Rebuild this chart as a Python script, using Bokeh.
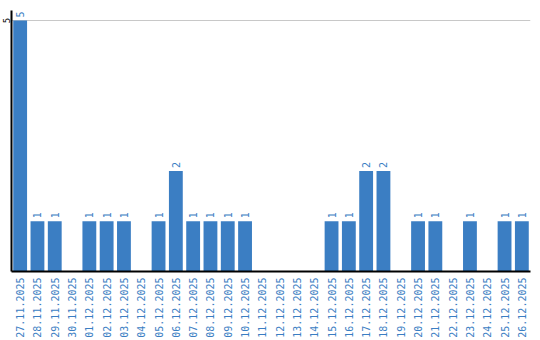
import math
from bokeh.plotting import figure
from bokeh.models import FactorRange, Range1d, FixedTicker, ColumnDataSource
from bokeh.core.properties import value
from bokeh.embed import file_html
from bokeh.resources import INLINE

dates = ["27.11.2025", "28.11.2025", "29.11.2025", "30.11.2025", "01.12.2025",
         "02.12.2025", "03.12.2025", "04.12.2025", "05.12.2025", "06.12.2025",
         "07.12.2025", "08.12.2025", "09.12.2025", "10.12.2025", "11.12.2025",
         "12.12.2025", "13.12.2025", "14.12.2025", "15.12.2025", "16.12.2025",
         "17.12.2025", "18.12.2025", "19.12.2025", "20.12.2025", "21.12.2025",
         "22.12.2025", "23.12.2025", "24.12.2025", "25.12.2025", "26.12.2025"]
counts = [5, 1, 1, 0, 1, 1, 1, 0, 1, 2,
          1, 1, 1, 1, 0, 0, 0, 0, 1, 1,
          2, 2, 0, 1, 1, 0, 1, 0, 1, 1]
y_ticks = [5]

BLUE = "#3b7ec3"

p = figure(width=540, height=340, x_range=FactorRange(*dates, range_padding=0),
           y_range=Range1d(0, 5.2), output_backend="svg", toolbar_location=None,
           min_border_left=0, min_border_right=10, min_border_top=10, min_border_bottom=0)
p.outline_line_color = None

src = ColumnDataSource(dict(x=dates, y=counts,
                            lab=[str(c) if c > 0 else "" for c in counts]))
p.vbar(x="x", top="y", width=0.8, source=src, fill_color=BLUE, line_color=None)
p.text(x="x", y="y", text="lab", source=src, angle=math.pi / 2,
       text_align="left", text_baseline="middle", y_offset=-3,
       text_font=value("DejaVu Sans Mono"), text_font_size="10px", text_color=BLUE)

p.xgrid.grid_line_color = None
p.ygrid.ticker = FixedTicker(ticks=y_ticks)
p.ygrid.grid_line_color = "#c8c8c8"
p.ygrid.grid_line_width = 1

p.yaxis.ticker = FixedTicker(ticks=y_ticks)
p.yaxis.major_label_orientation = "parallel"
p.yaxis.major_tick_out = 0
p.yaxis.major_tick_in = 0
p.yaxis.minor_tick_out = 0
p.yaxis.minor_tick_in = 0
p.yaxis.major_tick_line_color = None
p.yaxis.minor_tick_line_color = None
p.yaxis.axis_line_color = "black"
p.yaxis.axis_line_width = 2
p.yaxis.major_label_standoff = 1
p.yaxis.major_label_text_font = "DejaVu Sans Mono"
p.yaxis.major_label_text_font_size = "9px"
p.yaxis.major_label_text_color = "black"

p.xaxis.major_label_orientation = math.pi / 2
p.xaxis.major_tick_out = 0
p.xaxis.major_tick_in = 0
p.xaxis.minor_tick_out = 0
p.xaxis.minor_tick_in = 0
p.xaxis.major_tick_line_color = None
p.xaxis.minor_tick_line_color = None
p.xaxis.axis_line_color = "black"
p.xaxis.axis_line_width = 2
p.xaxis.major_label_standoff = 6
p.xaxis.major_label_text_font = "DejaVu Sans Mono"
p.xaxis.major_label_text_font_size = "10px"
p.xaxis.major_label_text_color = BLUE

open("out.html", "w").write(file_html(p, INLINE))
